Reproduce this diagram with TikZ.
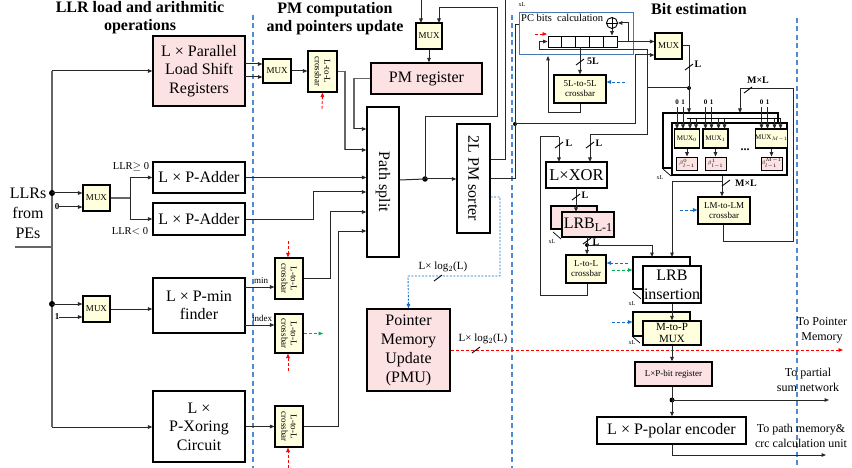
\documentclass[tikz,border=0pt]{standalone}
\usepackage{fontspec}
\setmainfont{Liberation Serif}
\usetikzlibrary{arrows.meta}
\definecolor{pk}{RGB}{252,226,226}
\definecolor{yl}{RGB}{255,255,222}
\definecolor{sepblue}{RGB}{80,140,205}
\definecolor{dblue}{RGB}{20,110,200}
\definecolor{dgreen}{RGB}{0,175,80}
\definecolor{pcblue}{RGB}{70,120,180}
\definecolor{lc}{RGB}{40,40,40}
\newcommand\fs[2]{\fontsize{#1}{#2}\selectfont}
\newcommand\tk[2]{\draw[line width=0.9pt] (#1-4,#2+3) -- (#1+4,#2-3);}
\begin{document}
\begin{tikzpicture}[x=1pt,y=-1pt,
  box/.style={draw,line width=1.2pt,inner sep=0pt,align=center,font=\fs{16}{18.5}},
  pbox/.style={box,fill=pk},
  wbox/.style={box,fill=white},
  ybox/.style={draw,line width=1.1pt,fill=yl,inner sep=0pt,align=center},
  mux/.style={ybox,minimum width=27,minimum height=26,font=\fs{9}{10}},
  arr/.style={-{Triangle[length=4.5pt,width=3.6pt]}},
  ln/.style={draw=lc,line width=1pt},
  gln/.style={draw=black!60,line width=1.4pt},
  sep/.style={draw=sepblue,line width=1.2pt,dash pattern=on 5pt off 3.5pt},
  rdash/.style={draw=red,line width=0.9pt,dash pattern=on 3pt off 2pt},
  bdash/.style={draw=dblue,line width=0.9pt,dash pattern=on 3pt off 2pt},
  gdash/.style={draw=dgreen,line width=1pt,dash pattern=on 3pt off 2pt},
  title/.style={font=\bfseries\fs{16}{18},align=center,inner sep=0pt},
  lbl/.style={inner sep=0pt,align=center},
  dot/.style={circle,fill=black,inner sep=0pt,minimum size=6pt},
  rtxt/.style={rotate=-90,inner sep=0pt,align=center},
]
\useasboundingbox (0,0) rectangle (852,468);
% separators
\draw[sep] (253,15) -- (253,468);
\draw[sep] (512,15) -- (512,468);
\draw[sep] (797,18) -- (797,468);
% titles
\node[title] (t1) at (140,18) {LLR load and arithmitic\\operations};
\node[title] (t2) at (335,19) {PM computation\\and pointers update};
\node[title] (t3) at (699,9) {Bit estimation};

% ---------------- left part
\node[pbox,minimum width=92,minimum height=70] (par) at (199,71) {L × Parallel\\Load Shift\\Registers};
\node[wbox,minimum width=92,minimum height=31] (add1) at (199,177.5) {L × P-Adder};
\node[wbox,minimum width=92,minimum height=32] (add2) at (199,219) {L × P-Adder};
\node[wbox,minimum width=92,minimum height=55] (minf) at (199,305.5) {L × P-min\\finder};
\node[wbox,minimum width=92,minimum height=71] (pxor) at (199,426.5) {L ×\\P-Xoring\\Circuit};
\node[mux] (mux1) at (96.5,198) {MUX};
\node[mux] (mux2) at (96.5,309) {MUX};
\node[lbl,font=\fs{16}{20}] (llr) at (28,213) {LLRs\\from\\PEs};

\coordinate (in) at (15,247);
\coordinate (bt) at (52,71);
\coordinate (bm) at (52,247);
\coordinate (bb) at (52,427);
\draw[gln] (in) -- (bm);
\draw[gln] (bt) -- (bb);
\node[dot] (d1) at (52,193) {};
\node[dot] (d2) at (52,304) {};
\draw[ln,arr] (bt) -- (par.west|-bt);
\draw[ln,arr] (d1.center) -- (mux1.west|-d1);
\draw[ln,arr] (d2.center) -- (mux2.west|-d2);
\draw[ln,arr] (bb) -- (pxor.west|-bb);
\node[lbl,font=\bfseries\fs{9}{9}] (z0) at (57,207) {0};
\node[lbl,font=\bfseries\fs{9}{9}] (z1) at (57,317) {1};
\draw[ln,arr] (z0.east) -- (mux1.west|-z0);
\draw[ln,arr] (z1.east) -- (mux2.west|-z1);
\coordinate (sp1) at (130,198);
\draw[gln] (mux1.east) -- (sp1);
\draw[ln,arr] (sp1) |- (add1.west);
\draw[ln,arr] (sp1) |- (add2.west);
\node[lbl,font=\fs{10.5}{11}] (ge) at (131,167) {LLR$\geq$ 0};
\node[lbl,font=\fs{10.5}{11}] (lt) at (130,231) {LLR$<$ 0};
\draw[ln,arr] (mux2.east) -- (minf.west|-mux2.east);

% ---------------- middle part
\node[mux,minimum width=28,minimum height=24] (mux3) at (277,71) {MUX};
\coordinate (p64) at (245,64);
\coordinate (p77) at (245,77);
\draw[ln,arr] (p64) -- (mux3.west|-p64);
\draw[ln,arr] (p77) -- (mux3.west|-p77);
\node[ybox,minimum width=29,minimum height=41] (cb1) at (322.5,71.5) {};
\node[rtxt,font=\fs{9}{9.5}] at (cb1) {L-to-L\\crossbar};
\draw[ln,arr] (mux3.east) -- (cb1.west|-mux3.east);
\coordinate (r1) at (322,109);
\draw[rdash,arr] (r1) -- (cb1.south);

\node[pbox,minimum width=111,minimum height=31] (pmreg) at (426.5,78.5) {PM register};
\node[mux,minimum width=26,minimum height=26] (mux4) at (429,36) {MUX};
\draw[ln,arr] (mux4.south) -- (pmreg.north-|mux4.south);
\coordinate (m4a) at (421,0);
\draw[ln,arr] (m4a) -- (421,23);

\node[wbox,minimum width=32,minimum height=150] (ps) at (383,182) {};
\node[rtxt,font=\fs{16}{18}] at (ps) {Path split};
\node[wbox,minimum width=33,minimum height=109] (srt) at (473.5,178.5) {};
\node[rtxt,font=\fs{16}{18}] at (srt) {2L PM sorter};

\draw[gln] (cb1.east) -- (345,71.5) -- (345,150);
\draw[ln,arr] (345,150) -- (ps.west|-{0,150});
\draw[gln] (pmreg.west) -- (354,78.5) -- (354,129);
\draw[ln,arr] (354,129) -- (ps.west|-{0,129});
\draw[ln,arr] (add1.east) -- (ps.west|-add1.east);
\draw[ln] (add2.east) -- (313,219) -- (313,192);
\draw[ln,arr] (313,192) -- (ps.west|-{0,192});

\node[ybox,minimum width=28,minimum height=41] (cb2) at (289,278.5) {};
\node[rtxt,font=\fs{9}{9.5}] at (cb2) {L-to-L\\crossbar};
\node[ybox,minimum width=28,minimum height=39] (cb3) at (289,333.5) {};
\node[rtxt,font=\fs{9}{9.5}] at (cb3) {L-to-L\\crossbar};
\node[ybox,minimum width=28,minimum height=41] (cb4) at (289,426.5) {};
\node[rtxt,font=\fs{9}{9.5}] at (cb4) {L-to-L\\crossbar};
\coordinate (mn) at (245,287);
\coordinate (ix) at (245,325);
\draw[ln,arr] (mn) -- (cb2.west|-mn);
\draw[ln,arr] (ix) -- (cb3.west|-ix);
\node[lbl,font=\fs{9}{9}] (mnl) at (261,281) {min};
\node[lbl,font=\fs{9}{9}] (ixl) at (262,318) {index};
\draw[rdash,arr] (288,241) -- (cb2.north-|{288,0});
\draw[rdash,arr] (288,371) -- (cb3.south-|{288,0});
\draw[rdash,arr] (288,468) -- (cb4.south-|{288,0});
\draw[gdash,arr] (cb3.east) -- (323,333.5);
\draw[ln,arr] (pxor.east|-cb4.west) -- (cb4.west);
\draw[ln] (cb2.east) -- (330,278.5) -- (330,212);
\draw[ln,arr] (330,212) -- (ps.west|-{0,212});
\draw[ln] (cb4.east) -- (338,426.5) -- (338,231);
\draw[ln,arr] (338,231) -- (ps.west|-{0,231});

% path split -> sorter
\node[dot,minimum size=5.5pt] (d3) at (425,179) {};
\draw[ln] (ps.east|-{0,180}) -- (d3.center);
\draw[ln,arr] (d3.center) -- (srt.west|-d3);
\draw[ln,arr] (d3.center) -- (425,117) -- (497,117) -- (497,8) -- (439,8) -- (439,23);
\draw[ln] (srt.east|-{0,160}) -- (505,160) -- (505,0);

% PMU
\node[pbox,minimum width=83,minimum height=82,font=\fs{16}{19}] (pmu) at (408.5,350) {Pointer\\Memory\\Update\\(PMU)};
\draw[bdash,dash pattern=on 2pt off 1.5pt,arr] (srt.east|-{0,197}) -- (500,197) -- (500,276) -- (408,276) -- (pmu.north);
\node[lbl,font=\fs{11}{11}] (lg1) at (443,267) {L× log$_2$(L)};
\tk{438}{278}
\coordinate (pmend) at (843,350);
\draw[rdash,arr] (pmu.east) -- (pmend);
\node[lbl,font=\fs{11}{11}] (lg2) at (483,339) {L× log$_2$(L)};
\tk{476}{350}

% ---------------- right part
\node[lbl,font=\fs{6}{6}] (xl0) at (522,5) {xL};
\node[draw=pcblue,line width=1pt,minimum width=114,minimum height=42,inner sep=0] (pc) at (576,34) {};
\node[lbl,anchor=west,font=\fs{10.5}{11}] (pcl) at (521,18) {PC bits\ \ calculation};
\foreach \i in {0,...,4} \node[draw,line width=0.9pt,minimum width=13.8,minimum height=11,inner sep=0] (rg\i) at ({554.9+13.8*\i},41.5) {};
\node[draw,circle,minimum size=11,inner sep=0,line width=0.9pt] (xo) at (612,23) {};
\draw[line width=0.8pt] (xo.north) -- (xo.south) (xo.west) -- (xo.east);
\node[mux,minimum width=27,minimum height=26] (mux5) at (668.5,46) {MUX};
\draw[ln,arr] (rg4.east) -- (mux5.west|-rg4.east);
\draw[ln,arr] (628,41.5) |- (xo.east);
\draw[ln,arr] (xo.south) -- (xo.south|-rg4.north);
\draw[ln,arr] (539,41.5) -- (rg0.west);
\draw[rdash,arr] (535,34) -- (547,34);

\node[ybox,minimum width=52,minimum height=28,font=\fs{9}{10}] (cb5) at (580,89) {5L-to-5L\\crossbar};
\draw[ln,arr] (580,47) -- (cb5.north);
\tk{580}{62}
\node[lbl,font=\bfseries\fs{10}{10}] (l5) at (593,61) {5L};
\draw[bdash,arr] (625,82) -- (cb5.east|-{0,82});
\draw[ln,arr] (cb5.south) -- (580,113) -- (548,113) -- (548,56);

% sorter lower output
\node[dot,minimum size=4pt] (d4) at (515,124) {};
\draw[ln] (srt.east|-{0,179}) -- (515,179) -- (515,25) -- (pc.west|-{0,25});
\draw[ln,arr] (d4.center) -- (635,124) -- (635,55) -- (mux5.west|-{0,55});

% MUX5 output
\node[dot,minimum size=4pt] (d5) at (689,88) {};
\draw[ln,arr] (mux5.east) -- (689,46) -- (689,113);
\tk{689}{67}
\node[lbl,font=\bfseries\fs{10}{10}] (lm5) at (698,64) {L};
\node[wbox,minimum width=61,minimum height=26,font=\fs{16.5}{18}] (xr) at (576.5,175) {L×XOR};
\draw[ln] (d5.center) -- (647,88) -- (647,50) -- (539,50) -- (539,41.5);
\draw[ln,arr] (647,88) -- (647,135) -- (590,135) -- (590,162);
\tk{590}{145}
\node[lbl,font=\bfseries\fs{10}{10}] (lx2) at (599,143) {L};

% LRB
\node[pbox,minimum width=46,minimum height=23] (lrbb) at (574,217.5) {};
\node[pbox,minimum width=52,minimum height=25] (lrb) at (588,224.5) {LRB\raisebox{-3pt}{\fs{12}{12}L-1}};
\draw[line width=0.7pt] (553,232) -- (561,239);
\node[lbl,font=\fs{6}{6}] (xl1) at (552,242) {xL};
\draw[ln,arr] (576,188) -- (576,212);
\tk{576}{197}
\node[lbl,font=\bfseries\fs{10}{10}] (lx3) at (585,195) {L};

\node[ybox,minimum width=40,minimum height=28,font=\fs{9}{10}] (cb6) at (586,269) {L-to-L\\crossbar};
\node[dot,minimum size=4pt] (d6) at (587,245) {};
\draw[ln] (587,237) -- (d6.center);
\draw[ln,arr] (d6.center) -- (cb6.north-|{587,0});
\tk{587}{241}
\node[lbl,font=\bfseries\fs{10}{10}] (lx4) at (596,242) {L};
\draw[ln] (cb6.south-|{587,0}) -- (587,295) -- (540,295) -- (540,137) -- (559,137);
\draw[ln,arr] (559,137) -- (559,162);
\tk{559}{145}
\node[lbl,font=\bfseries\fs{10}{10}] (lx1) at (569,143) {L};

% LRB insertion
\node[wbox,minimum width=57,minimum height=32] (lib) at (661.5,273) {};
\node[wbox,minimum width=58,minimum height=37,font=\fs{16}{19}] (li) at (672,284.5) {LRB\\insertion};
\draw[line width=0.7pt] (633,292) -- (641,299);
\node[lbl,font=\fs{6}{6}] (xl2) at (632,304) {xL};
\draw[ln,arr] (d6.center) -- (652,245) -- (652,257);
\draw[bdash,arr] (628,263) -- (cb6.east|-{0,263});
\draw[gdash,arr] (612,270) -- (lib.west|-{0,270});

% LM-to-LM crossbar
\node[ybox,minimum width=52,minimum height=27,font=\fs{9}{10}] (cb7) at (724,210.5) {LM-to-LM\\crossbar};
\draw[bdash,arr] (680,210) -- (cb7.west|-{0,210});

% MUX bank
\node[draw,line width=1.1pt,fill=white,minimum width=115,minimum height=55,inner sep=0] (mbb) at (720.5,140.5) {};
\node[draw,line width=1.1pt,fill=white,minimum width=115,minimum height=52,inner sep=0] (mbf) at (729.5,149) {};
\draw[line width=0.7pt] (663,169) -- (671,176);
\node[lbl,font=\fs{6}{6}] (xl3) at (660,178) {xL};
\foreach \n/\x/\s/\b in {m0/687/0/0,m1/715.5/1/1,m2/771.5/{M-1}/{M-1}} {
  \node[ybox,minimum width=25,minimum height=19,font=\fs{7}{7}] (\n) at (\x,138.5) {MUX$_{\s}$};
  \node[draw,line width=0.8pt,fill=pk,minimum width=21,minimum height=13,inner sep=0,font=\fs{5}{5}] (\n b) at (\x,163.5) {$\beta^{\b}_{l-1}$};
  \draw[ln,arr] (\n.south) -- (\n b.north);
  \draw[ln,arr] (\x-10,107) -- (\x-10,129);
  \draw[ln,arr] (\x-4,107) -- (\x-4,129);
  \draw[ln,arr] (\x+3,118) -- (\x+3,129);
  \draw[ln,arr] (\x+9,118) -- (\x+9,129);
  \node[lbl,font=\bfseries\fs{7}{7}] at (\x-10,102) {0};
  \node[lbl,font=\bfseries\fs{7}{7}] at (\x-4,102) {1};
}
\draw[line width=0.8pt] (687,118) -- (781,118);
\node[lbl,font=\bfseries\fs{12}{12}] (dots) at (745,150) {...};

% bank connections
\draw[ln] (mbf.south-|{722,0}) -- (722,182);
\draw[ln,arr] (722,182) -- (cb7.north-|{722,0});
\tk{726}{183}
\node[lbl,font=\bfseries\fs{10}{10}] (ml1) at (746,183) {M×L};
\draw[ln,arr] (722,182) -- (672,182) -- (672,257);
\draw[ln,arr] (cb7.south-|{723,0}) -- (723,241) -- (793,241) -- (793,89) -- (740,89) -- (740,113);
\tk{748}{90}
\node[lbl,font=\bfseries\fs{10}{10}] (ml2) at (758,80) {M×L};

% bottom right
\node[ybox,minimum width=57,minimum height=24] (mpb) at (661.5,324) {};
\node[ybox,minimum width=58,minimum height=24,font=\fs{11}{12}] (mp) at (672,333) {M-to-P\\MUX};
\draw[line width=0.7pt] (633,337) -- (640,343);
\node[lbl,font=\fs{6}{6}] (xl4) at (632,343) {xL};
\draw[bdash,arr] (612,322) -- (mpb.west|-{0,322});
\draw[ln,arr] (li.south) -- (mp.north);
\node[draw,line width=1.2pt,fill=pk,minimum width=77,minimum height=24,inner sep=0,font=\fs{9}{10}] (lpr) at (673.5,374) {L×P-bit register};
\draw[ln,arr] (mp.south) -- (lpr.north-|mp.south);
\node[wbox,minimum width=149,minimum height=27] (enc) at (671.5,430.5) {L × P-polar encoder};
\node[dot,minimum size=5pt] (d7) at (672,400) {};
\draw[ln] (lpr.south-|d7) -- (d7.center);
\draw[ln,arr] (d7.center) -- (enc.north-|d7);
\coordinate (ps1) at (829,400);
\draw[ln,arr] (d7.center) -- (ps1);
\coordinate (pe1) at (826,455);
\draw[ln,arr] (enc.south-|d7) -- (672,455) -- (pe1);
\node[lbl,font=\fs{12}{15}] (tpm) at (822,330) {To Pointer\\Memory};
\node[lbl,font=\fs{12}{15}] (tps) at (808,380) {To partial\\sum network};
\node[lbl,font=\fs{12}{15}] (tpc) at (801,436) {To path memory\&\\crc calculation unit};
\end{tikzpicture}
\end{document}
